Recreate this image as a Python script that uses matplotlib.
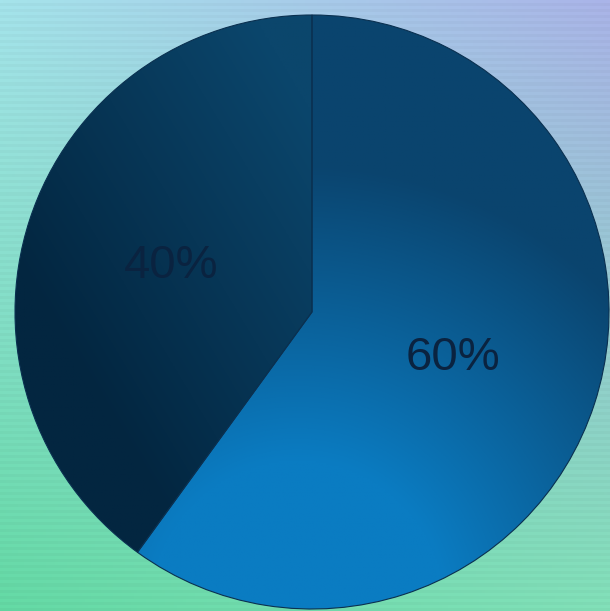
import numpy as np
import matplotlib
matplotlib.use("Agg")
import matplotlib.pyplot as plt

labels = ["60%", "40%"]
shares = [60, 40]

# colours (ends of each slice gradient)
big_dark = np.array([10, 68, 110]) / 255
big_light = np.array([10, 124, 194]) / 255
small_top = np.array([11, 70, 108]) / 255
small_bot = np.array([3, 38, 64]) / 255

fig = plt.figure(figsize=(6.10, 6.11), dpi=100)

# background gradient
bg = fig.add_axes([0, 0, 1, 1])
bg.set_axis_off()
h, w = 200, 200
yy, xx = np.mgrid[0:1:h * 1j, 0:1:w * 1j]
tl = np.array([165, 228, 235]) / 255
tr = np.array([170, 180, 232]) / 255
bl = np.array([100, 218, 165]) / 255
br = np.array([130, 225, 185]) / 255
img = ((1 - xx)[..., None] * (1 - yy)[..., None] * tl + xx[..., None] * (1 - yy)[..., None] * tr
       + (1 - xx)[..., None] * yy[..., None] * bl + xx[..., None] * yy[..., None] * br)
# faint horizontal banding
img = img * (1 - 0.025 * (np.arange(h) % 2))[:, None, None]
bg.imshow(np.clip(img, 0, 1), aspect="auto", extent=[0, 1, 0, 1])

ax = fig.add_axes([0, 0, 1, 1])
ax.set_axis_off()
wedges, texts, autotexts = ax.pie(
    shares, startangle=90, counterclock=False, autopct="%d%%", pctdistance=0.5,
    colors=["none", "none"], wedgeprops=dict(edgecolor="#0a3050", linewidth=0.8),
    textprops=dict(fontsize=34, color="#0a2340", family="Liberation Sans"),
)
autotexts[0].set_text(labels[0])
autotexts[1].set_text(labels[1])

# radial gradient for the big slice, light at the bottom
gy, gx = np.mgrid[-1.1:1.1:400j, -1.1:1.1:400j]
d = np.sqrt((gx + 0.05) ** 2 + (gy + 1.0) ** 2)
t = np.clip((d - 0.5) / 1.0, 0, 1)[..., None]
big = big_light * (1 - t) + big_dark * t
im1 = ax.imshow(big, extent=[-1.1, 1.1, -1.1, 1.1], origin="lower", zorder=0.5)
im1.set_clip_path(wedges[0])

# linear gradient for the small slice, lighter towards the top right
t2 = np.clip((gx + 0.6 * gy + 0.9) / 1.3, 0, 1)[..., None]
small = small_bot * (1 - t2) + small_top * t2
im2 = ax.imshow(small, extent=[-1.1, 1.1, -1.1, 1.1], origin="lower", zorder=0.5)
im2.set_clip_path(wedges[1])

ax.set_xlim(-312 / 297, 298 / 297)
ax.set_ylim(-299 / 297, 312 / 297)
ax.set_aspect("equal")
for txt in autotexts:
    txt.set_zorder(3)

fig.savefig("out.png", dpi=100)
